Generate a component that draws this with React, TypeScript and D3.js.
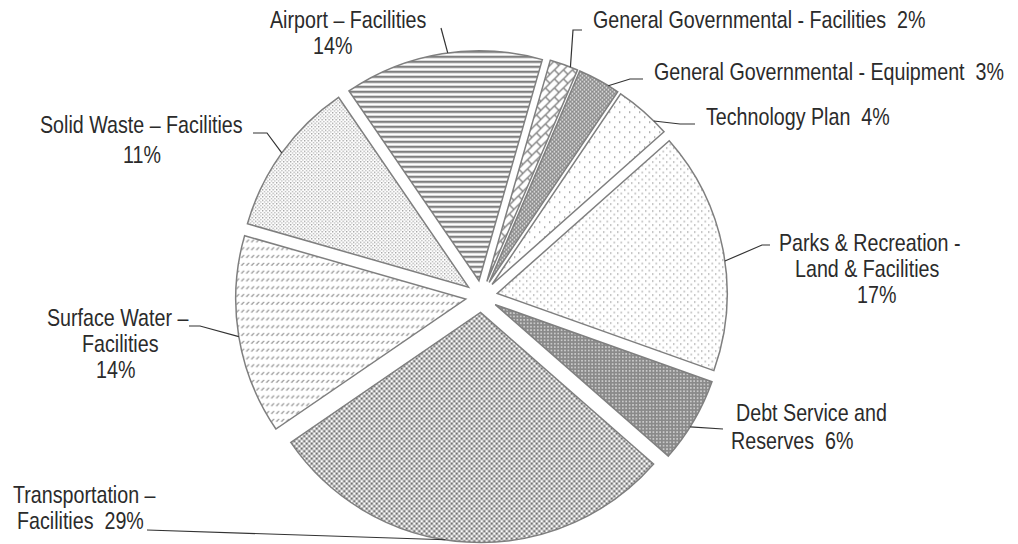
import React from "react";
import * as d3 from "d3";

// ---- data ----
const categories = [
  "General Governmental - Facilities",
  "General Governmental - Equipment",
  "Technology Plan",
  "Parks & Recreation - Land & Facilities",
  "Debt Service and Reserves",
  "Transportation – Facilities",
  "Surface Water – Facilities",
  "Solid Waste – Facilities",
  "Airport – Facilities",
];
const values = [2, 3, 4, 17, 6, 29, 14, 11, 14];
const patternIds = ["brick", "gridDense", "dotsSparse", "dotsMed", "mesh", "checker", "dashDiag", "dotsFine", "hStripes"];
// label lines ({p} = percent)
const labelLines = [
  ["General Governmental - Facilities  {p}"],
  ["General Governmental - Equipment  {p}"],
  ["Technology Plan  {p}"],
  ["Parks & Recreation -", "Land & Facilities", "{p}"],
  ["Debt Service and", "Reserves  {p}"],
  ["Transportation –", "Facilities  {p}"],
  ["Surface Water –", "Facilities", "{p}"],
  ["Solid Waste – Facilities", "{p}"],
  ["Airport – Facilities", "{p}"],
];

// ---- layout ----
const W = 1018, H = 544;
const CX = 481.5, CY = 296.5, R = 230, EXPLODE = 16;
const START = (16 * Math.PI) / 180;
const labelPos: [number, number][][] = [
  [[593, 28]],
  [[654, 80]],
  [[706, 125]],
  [[779, 251], [795, 277], [857, 303]],
  [[736, 421], [731, 449]],
  [[13, 503], [17, 529]],
  [[47, 326], [82, 352], [96, 378]],
  [[40, 133], [123, 163]],
  [[270, 28], [313, 54]],
];
const leaderPts: [number, number][][] = [
  [[582, 30], [573, 30]],
  [[643, 79], [630, 79]],
  [[695, 124], [680, 124]],
  [[770, 245], [762, 245]],
  [[723, 429]],
  [[147, 530]],
  [[189, 326], [200, 326]],
  [[253, 133], [267, 133]],
  [[441, 28]],
];
const leaderAngleDeg = [21.3, 31.2, 44.7, 81.9, 122.1, 188.8, 260.6, 305.7, 352.2];

const GRAY = "#7f7f7f";
const FONT = "'Liberation Sans', Arial, sans-serif";
const NARROW = 0.82;

export default function App() {
  const pie = d3
    .pie<number>()
    .sort(null)
    .startAngle(START)
    .endAngle(START + 2 * Math.PI);
  const arcs = pie(values);
  const arcGen = d3.arc<d3.PieArcDatum<number>>().innerRadius(0).outerRadius(R);

  return (
    <svg width={W} height={H} style={{ position: "absolute", left: 0, top: 0, background: "#fff" }}>
      <defs>
        <pattern id="hStripes" width={6} height={5} patternUnits="userSpaceOnUse">
          <rect x={0} y={0} width={6} height={2.3} fill={GRAY} />
        </pattern>
        <pattern id="brick" width={9} height={9} patternUnits="userSpaceOnUse">
          <line x1={0} y1={9} x2={9} y2={0} stroke={GRAY} strokeWidth={1.3} />
          <line x1={4.5} y1={4.5} x2={9} y2={9} stroke={GRAY} strokeWidth={1.3} />
          <line x1={-1} y1={1} x2={1} y2={-1} stroke={GRAY} strokeWidth={1.3} />
        </pattern>
        <pattern id="gridDense" width={4} height={4} patternUnits="userSpaceOnUse">
          <rect width={4} height={4} fill="#8a8a8a" />
          <rect x={0.6} y={0.6} width={1.4} height={1.4} fill="#fff" />
          <rect x={2.6} y={2.6} width={1.4} height={1.4} fill="#fff" />
        </pattern>
        <pattern id="mesh" width={3.4} height={3.4} patternUnits="userSpaceOnUse">
          <rect width={3.4} height={3.4} fill="#8a8a8a" />
          <rect x={1} y={1} width={1.4} height={1.4} fill="#e8e8e8" />
        </pattern>
        <pattern id="dotsSparse" width={10} height={10} patternUnits="userSpaceOnUse">
          <rect x={2} y={2} width={1.3} height={1.3} fill={GRAY} />
          <rect x={7} y={7} width={1.3} height={1.3} fill={GRAY} />
        </pattern>
        <pattern id="dotsMed" width={7} height={7} patternUnits="userSpaceOnUse">
          <rect x={1} y={1} width={1.2} height={1.2} fill={GRAY} />
          <rect x={4.5} y={4.5} width={1.2} height={1.2} fill={GRAY} />
        </pattern>
        <pattern id="checker" width={5} height={5} patternUnits="userSpaceOnUse">
          <rect x={0} y={0} width={2.4} height={2.4} fill="#6f6f6f" />
          <rect x={2.5} y={2.5} width={2.4} height={2.4} fill="#6f6f6f" />
        </pattern>
        <pattern id="dashDiag" width={5} height={7.8} patternUnits="userSpaceOnUse">
          <line x1={0.6} y1={5.6} x2={3.4} y2={2.8} stroke="#8a8a8a" strokeWidth={1.1} />
        </pattern>
        <pattern id="dotsFine" width={3.5} height={3.5} patternUnits="userSpaceOnUse">
          <rect x={0} y={0} width={1.3} height={1.3} fill="#9c9c9c" />
          <rect x={1.75} y={1.75} width={1.3} height={1.3} fill="#b0b0b0" />
        </pattern>
      </defs>
      <rect width={W} height={H} fill="#fff" />
      <g transform={`translate(${CX},${CY})`}>
        {arcs.map((a, i) => {
          const mid = (a.startAngle + a.endAngle) / 2;
          const dx = EXPLODE * Math.sin(mid);
          const dy = -EXPLODE * Math.cos(mid);
          return (
            <path
              key={categories[i]}
              d={arcGen(a) || ""}
              transform={`translate(${dx},${dy})`}
              fill={`url(#${patternIds[i]})`}
              stroke={GRAY}
              strokeWidth={1.5}
              strokeLinejoin="miter"
            />
          );
        })}
      </g>
      {arcs.map((a, i) => {
        const mid = (a.startAngle + a.endAngle) / 2;
        const ox = CX + EXPLODE * Math.sin(mid);
        const oy = CY - EXPLODE * Math.cos(mid);
        const ang = (leaderAngleDeg[i] * Math.PI) / 180;
        const end: [number, number] = [ox + R * Math.sin(ang), oy - R * Math.cos(ang)];
        const pts = [...leaderPts[i], end];
        return (
          <polyline
            key={"l" + i}
            points={pts.map((p) => p.join(",")).join(" ")}
            fill="none"
            stroke="#333"
            strokeWidth={1.2}
          />
        );
      })}
      {labelLines.map((lines, i) =>
        lines.map((ln, j) => (
          <text
            key={`t${i}-${j}`}
            transform={`translate(${labelPos[i][j][0]},${labelPos[i][j][1]}) scale(${NARROW},1)`}
            fontFamily={FONT}
            fontSize={24}
            fill="#2b2b2b"
            style={{ whiteSpace: "pre" }}
          >
            {ln.replace("{p}", `${values[i]}%`)}
          </text>
        ))
      )}
    </svg>
  );
}
